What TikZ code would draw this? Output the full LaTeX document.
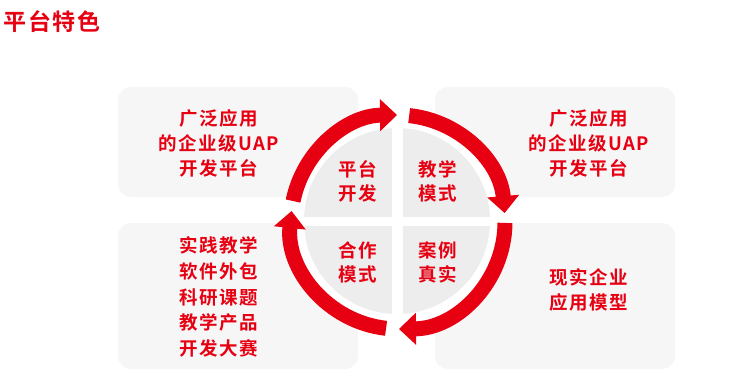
\documentclass[tikz,border=0pt]{standalone}
\usepackage{fontspec}
\newfontfamily\cjk{Noto Sans CJK SC}[BoldFont={Noto Sans CJK SC Bold}, LetterSpace=8]
\usetikzlibrary{arrows.meta}
\definecolor{myred}{HTML}{E60012}
\definecolor{boxgray}{HTML}{F6F6F6}
\definecolor{quadgray}{HTML}{EDEDED}
\tikzset{
  panel/.style={fill=boxgray, draw=none, rounded corners=13pt, minimum width=240pt, minimum height=110pt, inner sep=0pt},
  redtxt/.style={text=myred, align=center, inner sep=0pt, font=\cjk\bfseries\fontsize{18.5}{25}\selectfont},
  quadtxt/.style={redtxt, font=\cjk\bfseries\fontsize{18.5}{24}\selectfont},
  ringarrow/.style={draw=myred, line width=15pt, -{Triangle[width=31pt, length=17pt]}},
}
\begin{document}
\begin{tikzpicture}[x=1pt,y=-1pt]
\useasboundingbox[fill=white] (0,0) rectangle (736,385);
% title
\node[redtxt, font=\cjk\bfseries\fontsize{23}{26}\selectfont] (title) at (52,22) {平台特色};
% panels
\node[panel] (tl) at (238,142) {};
\node[panel] (tr) at (555,142) {};
\node[panel, minimum height=146pt] (bl) at (238,296) {};
\node[panel, minimum height=146pt] (br) at (555,296) {};
% centre
\coordinate (c) at (398,222);
\coordinate (q) at (397,221);
\fill[white] (c) circle[radius=108];
\fill[quadgray] (q) circle[radius=93];
\draw[white, line width=11pt] ([yshift=-95]q) -- ([yshift=95]q);
\draw[white, line width=9pt] ([xshift=-95]q) -- ([xshift=95]q);
% ring arrows (screen angle theta -> tikz angle -theta)
\draw[ringarrow] ([shift={(-168.7:107)}]c) arc[start angle=-168.7, end angle=-90.5, radius=107];
\draw[ringarrow] ([shift={(-84:107)}]c) arc[start angle=-84, end angle=-4.8, radius=107];
\draw[ringarrow] ([shift={(0.5:107)}]c) arc[start angle=0.5, end angle=89.5, radius=107];
\draw[ringarrow] ([shift={(96.4:107)}]c) arc[start angle=96.4, end angle=185.9, radius=107];
% quadrant texts
\node[quadtxt] (q1) at (357.5,181) {平台\\开发};
\node[quadtxt] (q2) at (437.5,181) {教学\\模式};
\node[quadtxt] (q3) at (357.5,262) {合作\\模式};
\node[quadtxt] (q4) at (437.5,262) {案例\\真实};
% panel texts
\node[redtxt] (tlt) at (219,143) {广泛应用\\的企业级UAP\\开发平台};
\node[redtxt] (trt) at (589,143) {广泛应用\\的企业级UAP\\开发平台};
\node[redtxt, font=\cjk\bfseries\fontsize{18.5}{25.6}\selectfont] (blt) at (219,297) {实践教学\\软件外包\\科研课题\\教学产品\\开发大赛};
\node[redtxt] (brt) at (589,289.5) {现实企业\\应用模型};
\end{tikzpicture}
\end{document}
